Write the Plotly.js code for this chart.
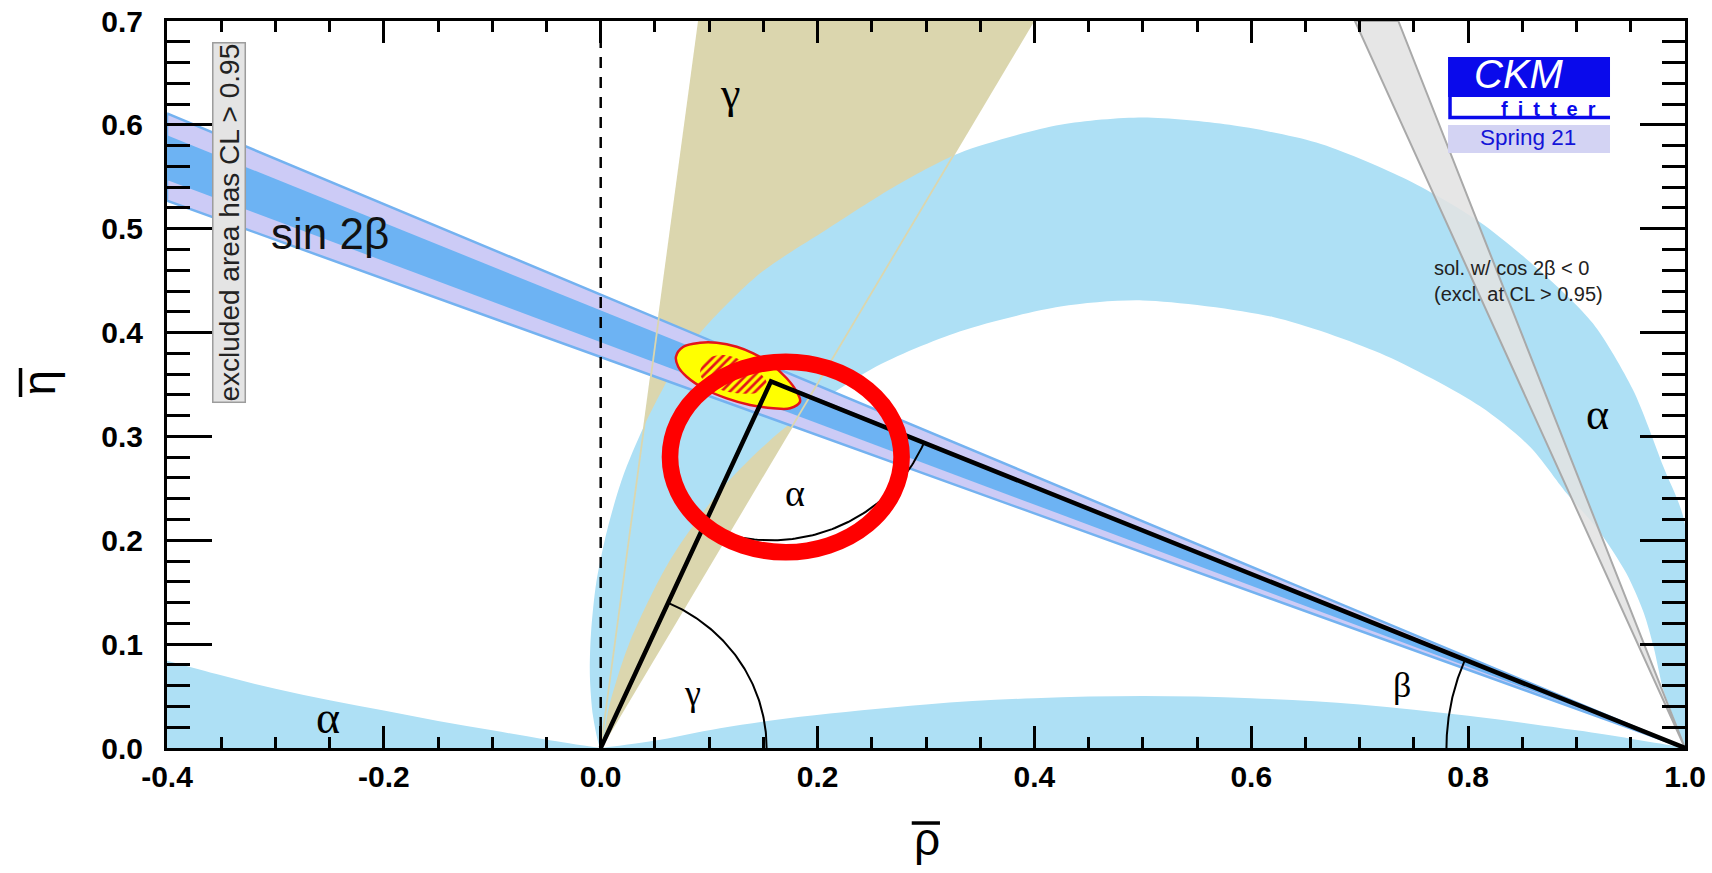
<!DOCTYPE html>
<html>
<head>
<meta charset="utf-8">
<script src="https://cdn.plot.ly/plotly-3.0.1.min.js"></script>
<style>
  html, body { margin: 0; padding: 0; background: #ffffff; }
  #chart { width: 1712px; height: 873px; }
</style>
</head>
<body>
<div id="chart"></div>
<script>
// ---- axis ticks ----
const xTickVals = [-0.4, -0.2, 0.0, 0.2, 0.4, 0.6, 0.8, 1.0];
const xTickText = ['-0.4', '-0.2', '0.0', '0.2', '0.4', '0.6', '0.8', '1.0'];
const yTickVals = [0.0, 0.1, 0.2, 0.3, 0.4, 0.5, 0.6, 0.7];
const yTickText = ['0.0', '0.1', '0.2', '0.3', '0.4', '0.5', '0.6', '0.7'];

// ---- unitarity triangle: (0,0) -> apex -> (1,0) ----
const triangleRho = [0.0, 0.157, 1.0];
const triangleEta = [0.0, 0.353, 0.0];

// ---- gamma: wedge from the origin ----
const gammaRho = [0.0, 0.0906, 0.399];
const gammaEta = [0.0, 0.700, 0.700];

// ---- sin 2beta: wide (lavender) and narrow (blue) wedges from (1,0) ----
const sin2bOuterRho = [-0.4, 1.0, -0.4];
const sin2bOuterEta = [0.611, 0.0, 0.527];
const sin2bInnerRho = [-0.4, 1.0, -0.4];
const sin2bInnerEta = [0.590, 0.0, 0.547];

// ---- second sin 2beta solution (cos 2beta < 0) ----
const cos2bRho = [1.0, 0.6956, 0.7356];
const cos2bEta = [0.0, 0.700, 0.700];

// ---- alpha: main band, outer edge (origin -> rho = 1) ----
const alphaOuterRho = [0.000, -0.007, -0.010, -0.009, -0.004, 0.006, 0.020, 0.040, 0.065, 0.092, 0.147, 0.208, 0.270, 0.331, 0.424, 0.500, 0.580, 0.660, 0.740, 0.810, 0.870, 0.915, 0.952, 0.980, 1.000];
const alphaOuterEta = [0.000, 0.030, 0.070, 0.110, 0.160, 0.210, 0.260, 0.310, 0.360, 0.400, 0.457, 0.499, 0.540, 0.573, 0.600, 0.607, 0.600, 0.583, 0.549, 0.507, 0.456, 0.409, 0.345, 0.271, 0.215];
// alpha: main band, inner edge ((1,0) -> origin)
const alphaInnerRho = [1.000, 0.990, 0.980, 0.971, 0.962, 0.946, 0.920, 0.891, 0.857, 0.811, 0.719, 0.620, 0.500, 0.424, 0.331, 0.250, 0.167, 0.112, 0.064, 0.026, 0.008, 0.000];
const alphaInnerEta = [0.000, 0.028, 0.056, 0.0975, 0.130, 0.168, 0.210, 0.245, 0.290, 0.329, 0.380, 0.415, 0.431, 0.425, 0.401, 0.365, 0.306, 0.250, 0.181, 0.100, 0.041, 0.000];
// alpha: thin band along the rho axis
const alphaLowRho = [0.000, 0.055, 0.110, 0.184, 0.300, 0.400, 0.500, 0.600, 0.700, 0.800, 0.900, 0.950, 0.990, 1.000];
const alphaLowEta = [0.000, 0.008, 0.019, 0.030, 0.042, 0.048, 0.050, 0.048, 0.042, 0.031, 0.017, 0.009, 0.002, 0.000];
// alpha: region left of the origin
const alphaLeftRho = [-0.40, -0.35, -0.30, -0.25, -0.20, -0.15, -0.10, -0.05, 0.00];
const alphaLeftEta = [0.084, 0.070, 0.057, 0.046, 0.036, 0.026, 0.017, 0.008, 0.000];

// ---- global fit: 95% CL contour and 68% CL (hatched) region ----
const fit95Rho = [0.0694, 0.0762, 0.0916, 0.1070, 0.1254, 0.1407, 0.1561, 0.1715, 0.1807, 0.1838, 0.1746, 0.1592, 0.1377, 0.1162, 0.0977, 0.0793, 0.0715];
const fit95Eta = [0.3768, 0.3864, 0.3902, 0.3902, 0.3864, 0.3800, 0.3704, 0.3560, 0.3431, 0.3334, 0.3271, 0.3271, 0.3303, 0.3367, 0.3447, 0.3575, 0.3671];
const fit68Rho = [0.0916, 0.0992, 0.1131, 0.1254, 0.1469, 0.1531, 0.1469, 0.1254, 0.1070, 0.0947];
const fit68Eta = [0.3623, 0.3752, 0.3784, 0.3752, 0.3608, 0.3511, 0.3431, 0.3415, 0.3463, 0.3543];

// ---- colours ----
const C_ALPHA = '#aee0f5';
const C_GAMMA = '#dbd6ae';
const C_LAV = '#cccbf6';
const C_BLUE = '#6db3f3';
const C_BLUE_EDGE = '#74b2f0';

function closed(xs, ys) { return { x: xs.concat([xs[0]]), y: ys.concat([ys[0]]) }; }

function arcTrace(cx, cy, r, a0, a1) {
  const xs = [], ys = [];
  const n = 90;
  for (let i = 0; i <= n; i++) {
    const a = a0 + (a1 - a0) * i / n;
    xs.push(cx + r * Math.cos(a));
    ys.push(cy + r * Math.sin(a));
  }
  return { x: xs, y: ys, mode: 'lines', line: { color: '#000', width: 2 } };
}

const traces = [];

// alpha side regions
traces.push({ x: alphaLeftRho, y: alphaLeftEta, mode: 'lines', fill: 'tozeroy', fillcolor: C_ALPHA,
  line: { width: 0, shape: 'spline', color: C_ALPHA } });
traces.push({ x: alphaLowRho, y: alphaLowEta, mode: 'lines', fill: 'tozeroy', fillcolor: C_ALPHA,
  line: { width: 0, shape: 'spline', color: C_ALPHA } });

// gamma wedge
const gW = closed(gammaRho, gammaEta);
traces.push({ x: gW.x, y: gW.y, mode: 'lines', fill: 'toself', fillcolor: C_GAMMA, line: { width: 0, color: C_GAMMA } });

// alpha main band
const aRho = alphaOuterRho.concat(alphaInnerRho);
const aEta = alphaOuterEta.concat(alphaInnerEta);
traces.push({ x: aRho, y: aEta, mode: 'lines', fill: 'toself', fillcolor: C_ALPHA,
  line: { width: 0, shape: 'spline', smoothing: 0.8, color: C_ALPHA } });

// sin 2beta bands
const sO = closed(sin2bOuterRho, sin2bOuterEta);
traces.push({ x: sO.x, y: sO.y, mode: 'lines', fill: 'toself', fillcolor: C_LAV, line: { width: 2.5, color: C_BLUE_EDGE } });
const sI = closed(sin2bInnerRho, sin2bInnerEta);
traces.push({ x: sI.x, y: sI.y, mode: 'lines', fill: 'toself', fillcolor: C_BLUE, line: { width: 0, color: C_BLUE } });

// gamma edges drawn through the other bands
traces.push({ x: [gammaRho[0], gammaRho[1]], y: [gammaEta[0], gammaEta[1]], mode: 'lines', line: { color: C_GAMMA, width: 1.8 } });
traces.push({ x: [gammaRho[0], gammaRho[2]], y: [gammaEta[0], gammaEta[2]], mode: 'lines', line: { color: C_GAMMA, width: 1.8 } });

// cos 2beta < 0 wedge
const cW = closed(cos2bRho, cos2bEta);
traces.push({ x: cW.x, y: cW.y, mode: 'lines', fill: 'toself', fillcolor: 'rgba(226,226,226,0.88)', line: { width: 2, color: '#a9a9a9' } });

// global fit contours
const f95 = closed(fit95Rho, fit95Eta);
traces.push({ x: f95.x, y: f95.y, mode: 'lines', fill: 'toself', fillcolor: '#ffff00',
  line: { width: 2.5, color: '#e4141b', shape: 'spline' } });
const f68 = closed(fit68Rho, fit68Eta);
traces.push({ x: f68.x, y: f68.y, mode: 'lines', fill: 'toself', fillcolor: 'rgba(0,0,0,0)',
  fillpattern: { shape: '/', fgcolor: '#e4141b', size: 6, solidity: 0.45 },
  line: { width: 0, shape: 'spline', color: 'rgba(0,0,0,0)' } });

// unitarity triangle
traces.push({ x: triangleRho, y: triangleEta, mode: 'lines', line: { color: '#000', width: 4.5 } });

// angle arcs
const Ar = triangleRho[1], Ae = triangleEta[1];
traces.push(arcTrace(triangleRho[0], triangleEta[0], 0.153, 0, Math.atan2(Ae - triangleEta[0], Ar - triangleRho[0])));
traces.push(arcTrace(triangleRho[2], triangleEta[2], 0.22, Math.atan2(Ae - triangleEta[2], Ar - triangleRho[2]), Math.PI));
traces.push(arcTrace(Ar, Ae, 0.153, Math.atan2(triangleEta[0] - Ae, triangleRho[0] - Ar), Math.atan2(triangleEta[2] - Ae, triangleRho[2] - Ar)));

traces.forEach(t => { t.hoverinfo = 'skip'; t.showlegend = false; });

const greek = { family: 'Liberation Serif', color: '#000' };

const annotations = [
  { text: 'sin 2β', x: -0.2497, y: 0.495, font: { family: 'Liberation Sans', size: 44, color: '#111' } },
  { text: 'γ', x: 0.119, y: 0.630, font: Object.assign({ size: 44 }, greek) },
  { text: 'γ', x: 0.085, y: 0.053, font: Object.assign({ size: 36 }, greek) },
  { text: 'α', x: 0.179, y: 0.2455, font: Object.assign({ size: 38 }, greek) },
  { text: 'β', x: 0.7387, y: 0.0607, font: Object.assign({ size: 36 }, greek) },
  { text: 'α', x: 0.9197, y: 0.321, font: Object.assign({ size: 44 }, greek) },
  { text: 'α', x: -0.2515, y: 0.0298, font: Object.assign({ size: 46 }, greek) },
  { text: 'sol. w/ cos 2β < 0<br>(excl. at CL > 0.95)', x: 0.7666, y: 0.4496, xanchor: 'left', align: 'left',
    font: { family: 'Liberation Sans', size: 20, color: '#222' } },
  { text: 'excluded area has CL > 0.95', x: -0.3428, y: 0.5055, textangle: -90,
    font: { family: 'Liberation Sans', size: 28, color: '#222' },
    bgcolor: '#e4e4e4', bordercolor: '#9c9c9c', borderwidth: 1.5, borderpad: 0 },
  // axis titles (the bars above the letters are drawn as shapes)
  { text: 'ρ', xref: 'paper', yref: 'paper', x: 0.5007, y: -0.125, font: { family: 'Liberation Sans', size: 46, color: '#000' } },
  { text: 'η', xref: 'paper', yref: 'paper', x: -0.0843, y: 0.5028, textangle: -90, font: { family: 'Liberation Sans', size: 46, color: '#000' } },
  // logo
  { text: 'CKM', xref: 'paper', yref: 'paper', x: 0.8907, y: 0.9271, font: { family: 'Liberation Sans', size: 40, color: '#ffffff', style: 'italic' } },
  { text: 'f\u2002i\u2002t\u2002t\u2002e\u2002r', xref: 'paper', yref: 'paper', x: 0.9098, y: 0.8790, font: { family: 'Liberation Sans', size: 20, color: '#0a0aeb', weight: 'bold' } },
  { text: 'Spring 21', xref: 'paper', yref: 'paper', x: 0.8966, y: 0.8391, font: { family: 'Liberation Sans', size: 22.5, color: '#1414d8' } }
].map(a => Object.assign({ showarrow: false, xref: 'x', yref: 'y', xanchor: 'center', yanchor: 'middle' }, a));

const shapes = [
  // reference line at rho = 0
  { type: 'line', xref: 'x', yref: 'paper', x0: 0, x1: 0, y0: 0, y1: 1, layer: 'above',
    line: { color: '#000', width: 2.5, dash: '11px,9px' } },
  // highlight ring around the apex
  { type: 'circle', xref: 'x', yref: 'y', x0: 0.0639, x1: 0.2775, y0: 0.1885, y1: 0.3719, layer: 'above',
    line: { color: '#ff0000', width: 16.6 }, fillcolor: 'rgba(0,0,0,0)' },
  // bars of the axis-title symbols
  { type: 'line', xref: 'paper', yref: 'paper', x0: 0.4906, x1: 0.5092, y0: -0.1032, y1: -0.1032, layer: 'above',
    line: { color: '#000', width: 3.5 } },
  { type: 'line', xref: 'paper', yref: 'paper', x0: -0.0965, x1: -0.0965, y0: 0.4828, y1: 0.5227, layer: 'above',
    line: { color: '#000', width: 3.5 } },
  // logo boxes
  { type: 'rect', xref: 'paper', yref: 'paper', x0: 0.8439, x1: 0.9506, y0: 0.8955, y1: 0.9505, layer: 'above',
    fillcolor: '#0a0aeb', line: { width: 0 } },
  { type: 'rect', xref: 'paper', yref: 'paper', x0: 0.8439, x1: 0.9506, y0: 0.8652, y1: 0.8955, layer: 'above',
    fillcolor: '#ffffff', line: { width: 0 } },
  { type: 'path', xref: 'paper', yref: 'paper', path: 'M 0.8452 0.8955 L 0.8452 0.8672 L 0.9506 0.8672', layer: 'above',
    line: { color: '#0a0aeb', width: 3.5 } },
  { type: 'rect', xref: 'paper', yref: 'paper', x0: 0.8439, x1: 0.9506, y0: 0.8184, y1: 0.8570, layer: 'above',
    fillcolor: '#d3d3f3', line: { width: 0 } }
];

const axisCommon = {
  showgrid: false, zeroline: false, showline: true, linecolor: '#000', linewidth: 3,
  mirror: 'allticks', ticks: 'inside', tickcolor: '#000', tickwidth: 3,
  tickfont: { family: 'Liberation Sans', size: 30, color: '#000', weight: 'bold' },
  tickmode: 'array', fixedrange: true
};

const layout = {
  width: 1712, height: 873,
  margin: { l: 167, r: 27, t: 21, b: 125, pad: 0 },
  paper_bgcolor: '#ffffff', plot_bgcolor: '#ffffff',
  showlegend: false, hovermode: false,
  font: { family: 'Liberation Sans' },
  xaxis: Object.assign({}, axisCommon, {
    range: [-0.4, 1.0], tickvals: xTickVals, ticktext: xTickText, ticklen: 22,
    ticklabelstandoff: 0,
    minor: { ticks: 'inside', ticklen: 11, tickwidth: 3, tickcolor: '#000', dtick: 0.05, tick0: -0.4, showgrid: false }
  }),
  yaxis: Object.assign({}, axisCommon, {
    range: [0, 0.7], tickvals: yTickVals, ticktext: yTickText, ticklen: 45,
    ticklabelstandoff: 15,
    minor: { ticks: 'inside', ticklen: 23, tickwidth: 3, tickcolor: '#000', dtick: 0.02, tick0: 0, showgrid: false }
  }),
  shapes: shapes,
  annotations: annotations
};

Plotly.newPlot('chart', traces, layout, { staticPlot: true, displayModeBar: false });
</script>
</body>
</html>
